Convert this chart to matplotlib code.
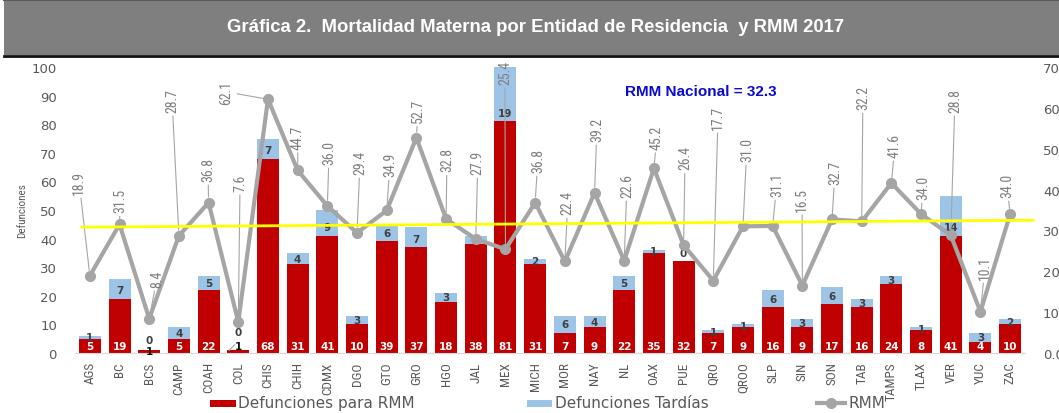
import matplotlib
matplotlib.use('Agg')
import matplotlib.pyplot as plt
import numpy as np
from matplotlib.patches import Rectangle
from matplotlib.lines import Line2D
from matplotlib.ticker import FormatStrFormatter
from matplotlib import font_manager

# ---------------- data ----------------
states = ['AGS', 'BC', 'BCS', 'CAMP', 'COAH', 'COL', 'CHIS', 'CHIH', 'CDMX', 'DGO',
          'GTO', 'GRO', 'HGO', 'JAL', 'MEX', 'MICH', 'MOR', 'NAY', 'NL', 'OAX',
          'PUE', 'QRO', 'QROO', 'SLP', 'SIN', 'SON', 'TAB', 'TAMPS', 'TLAX', 'VER',
          'YUC', 'ZAC']
def_rmm = [5, 19, 1, 5, 22, 1, 68, 31, 41, 10, 39, 37, 18, 38, 81, 31, 7, 9, 22, 35,
           32, 7, 9, 16, 9, 17, 16, 24, 8, 41, 4, 10]
def_tardias = [1, 7, 0, 4, 5, 0, 7, 4, 9, 3, 6, 7, 3, 3, 19, 2, 6, 4, 5, 1,
               0, 1, 1, 6, 3, 6, 3, 3, 1, 14, 3, 2]
rmm = [18.9, 31.5, 8.4, 28.7, 36.8, 7.6, 62.1, 44.7, 36.0, 29.4, 34.9, 52.7, 32.8,
       27.9, 25.4, 36.8, 22.4, 39.2, 22.6, 45.2, 26.4, 17.7, 31.0, 31.1, 16.5, 32.7,
       32.2, 41.6, 34.0, 28.8, 10.1, 34.0]
rmm_nacional = 32.3
trend_values = [30.8, 32.5]  # yellow reference line (start, end)

left_ticks = list(range(0, 101, 10))
right_ticks = list(range(0, 71, 10))

# ---------------- layout (label placement) ----------------
lab_v = [38.9, 34.5, 16.2, 59.0, 42.1, 39.7, 61.0, 50.0, 46.3, 43.8, 43.3, 56.5, 44.5,
         43.8, 65.9, 44.3, 34.0, 51.9, 38.2, 50.0, 45.0, 54.8, 47.0, 38.4, 34.8, 41.4,
         59.7, 48.0, 37.7, 59.0, 18.1, 38.2]
lab_dx = [-0.36, 0.02, 0.26, -0.23, -0.02, 0.06, -1.41, 0.01, 0.06, 0.1, 0.11, 0.05, 0.03,
          0.07, -0.02, 0.09, 0.1, 0.08, 0.09, 0.1, 0.05, 0.16, 0.13, 0.14, -0.01, 0.1,
          0.04, 0.12, 0.06, 0.14, 0.15, -0.11]
zero_lab_y = {2: 4.6, 5: 7.3, 20: 35.0}
small_red_lab_y = {2: 0.6, 5: 2.4}

# pick a condensed font if one is installed
_fonts = font_manager.fontManager.ttflist
_names = {f.name for f in _fonts}
NARROW_KW = None
for cand in ['Liberation Sans Narrow', 'Roboto Condensed', 'Open Sans Condensed',
             'Noto Sans Condensed', 'Arial Narrow']:
    if cand in _names:
        NARROW_KW = dict(family=cand)
        NARROW_SCALE = 1.0
        break
if NARROW_KW is None:
    if any(f.name == 'DejaVu Sans' and f.stretch == 'condensed' for f in _fonts):
        NARROW_KW = dict(family='DejaVu Sans', stretch='condensed')
        NARROW_SCALE = 0.92
    else:
        NARROW_KW = dict(family='Liberation Sans')
        NARROW_SCALE = 0.85

W, H = 1059, 414
fig = plt.figure(figsize=(W / 100, H / 100), dpi=100)
fig.patch.set_facecolor('white')

GRAY_TXT = '#595959'

def fy(py):
    return 1 - py / H

# title band
fig.patches.append(Rectangle((4 / W, fy(56)), 1, 56 / H, transform=fig.transFigure,
                             facecolor='#7F7F7F', edgecolor='none', zorder=0))
fig.add_artist(Line2D([4 / W, 1], [fy(1), fy(1)], color='#595959', lw=1.5))
fig.add_artist(Line2D([4 / W, 1], [fy(56.5), fy(56.5)], color='#111111', lw=2))
fig.text(536 / W, fy(28), 'Gráfica 2.  Mortalidad Materna por Entidad de Residencia  y RMM 2017',
         ha='center', va='center', color='white', fontsize=13.3, fontweight='bold',
         family='Liberation Sans')

# main axes
ax = fig.add_axes([75 / W, 60 / H, 950 / W, 286 / H])
x = np.arange(len(states))
ax.bar(x, def_rmm, width=0.74, color='#C00000', zorder=2)
ax.bar(x, def_tardias, bottom=def_rmm, width=0.74, color='#9DC3E6', zorder=2)
ax.set_xlim(-0.5, len(states) - 0.5)
ax.set_ylim(0, 100)
ax.set_yticks(left_ticks)
ax.tick_params(axis='y', length=0, pad=13, labelsize=9.5, labelcolor=GRAY_TXT)
ax.set_xticks(x)
ax.set_xticklabels(states, rotation=90, fontsize=9.5 * NARROW_SCALE, color=GRAY_TXT,
                   **NARROW_KW)
ax.tick_params(axis='x', length=0, pad=6)
for s in ['left', 'right', 'top']:
    ax.spines[s].set_visible(False)
ax.spines['bottom'].set_color('#D9D9D9')

# bar labels
for i in x:
    r = def_rmm[i]
    t = def_tardias[i]
    if i in small_red_lab_y:
        ax.text(i, small_red_lab_y[i], str(r), ha='center', va='center', fontsize=7.5,
                fontweight='bold', color='#111111', zorder=4)
    else:
        ax.text(i, 2.6, str(r), ha='center', va='center', fontsize=7.5,
                fontweight='bold', color='white', zorder=4)
    if t == 0:
        ty = zero_lab_y.get(i, r + t + 3)
    else:
        ty = r + min(3.0, t / 2)
    ax.text(i, ty, str(t), ha='center', va='center', fontsize=7.5,
            fontweight='bold', color='#404040', zorder=4)
# small leader for the COL label
ax.annotate('', xy=(5 - 0.05, 3.6), xytext=(5 - 0.38, 0.2),
            arrowprops=dict(arrowstyle='-', color='#A5A5A5', lw=0.8))

# RMM axis
ax2 = ax.twinx()
ax2.set_ylim(0, 70)
ax2.set_yticks(right_ticks)
ax2.yaxis.set_major_formatter(FormatStrFormatter('%.1f'))
ax2.tick_params(axis='y', length=0, pad=13, labelsize=9.5, labelcolor=GRAY_TXT)
for s in ax2.spines.values():
    s.set_visible(False)
ax2.plot(x, rmm, color='#A5A5A5', lw=3, marker='o', ms=7, zorder=3)
ax2.plot([-0.26, 31.77], trend_values, color='#FFFF00', lw=2, clip_on=False, zorder=5)

for i in x:
    ax2.annotate(f'{rmm[i]:.1f}', xy=(i, rmm[i]), xytext=(i + lab_dx[i], lab_v[i]),
                 rotation=90, ha='center', va='bottom', fontsize=10 * NARROW_SCALE,
                 color='#7F7F7F', zorder=4, **NARROW_KW,
                 arrowprops=dict(arrowstyle='-', color='#A5A5A5', lw=0.8,
                                 shrinkA=1, shrinkB=4))

ax2.text(0.5787, 0.915, f'RMM Nacional = {rmm_nacional}', transform=ax2.transAxes,
         ha='left', va='center', color='#0A0ACC', fontsize=11, fontweight='bold',
         family='Liberation Sans')

# y label
fig.text(22 / W, fy(211), 'Defunciones', rotation=90, ha='center', va='center',
         fontsize=8 * NARROW_SCALE, color=GRAY_TXT, **NARROW_KW)

# legend
ly = fy(404)
fig.patches.append(Rectangle((210 / W, ly - 3.5 / H), 26 / W, 7 / H, transform=fig.transFigure,
                             facecolor='#C00000', edgecolor='none'))
fig.text(238 / W, ly, 'Defunciones para RMM', ha='left', va='center', fontsize=11,
         color=GRAY_TXT)
fig.patches.append(Rectangle((527 / W, ly - 3.5 / H), 25 / W, 7 / H, transform=fig.transFigure,
                             facecolor='#9DC3E6', edgecolor='none'))
fig.text(555 / W, ly, 'Defunciones Tardías', ha='left', va='center', fontsize=11,
         color=GRAY_TXT)
fig.add_artist(Line2D([817 / W, 845 / W], [ly, ly], color='#A5A5A5', lw=3))
fig.add_artist(Line2D([831 / W], [ly], color='#A5A5A5', marker='o', ms=7, lw=0))
fig.text(848 / W, ly, 'RMM', ha='left', va='center', fontsize=11, color=GRAY_TXT)

fig.savefig('out.png', dpi=100)
